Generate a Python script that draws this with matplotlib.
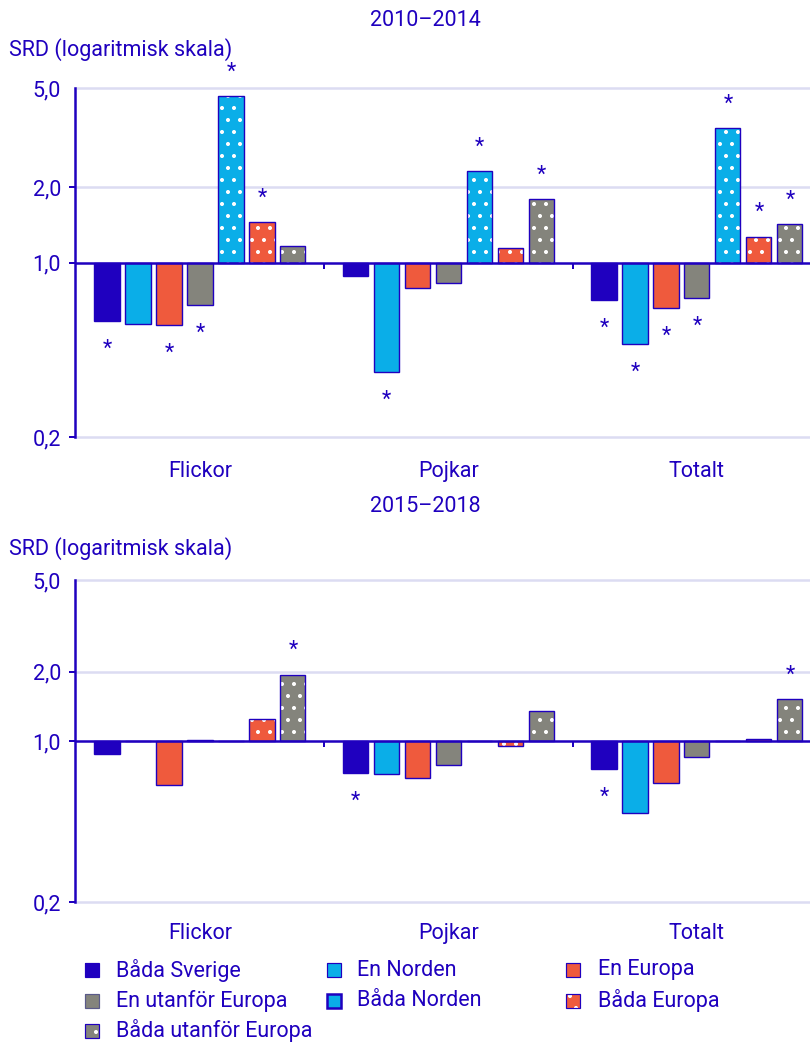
import matplotlib
matplotlib.use("Agg")
import matplotlib.pyplot as plt
import numpy as np
from matplotlib.patches import Rectangle
from matplotlib.transforms import blended_transform_factory

plt.rcParams["font.family"] = ["Roboto", "DejaVu Sans"]
plt.rcParams["hatch.linewidth"] = 1.6

# ---- data -------------------------------------------------------------
groups = ["Flickor", "Pojkar", "Totalt"]
series = ["Båda Sverige", "En Norden", "En Europa", "En utanför Europa",
          "Båda Norden", "Båda Europa", "Båda utanför Europa"]
periods = ["2010–2014", "2015–2018"]

# SRD per group, one value per series (order as in `series`)
srd_1014_flickor = [0.585, 0.569, 0.564, 0.678, 4.64, 1.45, 1.16]
srd_1014_pojkar = [0.879, 0.365, 0.787, 0.831, 2.32, 1.14, 1.79]
srd_1014_totalt = [0.710, 0.473, 0.660, 0.723, 3.45, 1.27, 1.42]

srd_1518_flickor = [0.877, 1.00, 0.643, 1.01, 1.00, 1.25, 1.94]
srd_1518_pojkar = [0.725, 0.718, 0.689, 0.786, 1.00, 0.95, 1.35]
srd_1518_totalt = [0.755, 0.485, 0.656, 0.851, 1.00, 1.02, 1.52]

# statistically significant differences (marked with *)
sig_1014_flickor = [1, 0, 1, 1, 1, 1, 0]
sig_1014_pojkar = [0, 1, 0, 0, 1, 0, 1]
sig_1014_totalt = [1, 1, 1, 1, 1, 1, 1]

sig_1518_flickor = [0, 0, 0, 0, 0, 0, 1]
sig_1518_pojkar = [1, 0, 0, 0, 0, 0, 0]
sig_1518_totalt = [1, 0, 0, 0, 0, 0, 1]

ytick_values = [0.2, 1.0, 2.0, 5.0]
ytick_labels = ["0,2", "1,0", "2,0", "5,0"]

# ---- style ------------------------------------------------------------
NAVY = "#1f00bf"
LIGHTBLUE = "#0aaee8"
ORANGE = "#ef5a3d"
GRAY = "#84847c"
GRID = "#dcdcf2"

fills = [NAVY, LIGHTBLUE, ORANGE, GRAY, LIGHTBLUE, ORANGE, GRAY]
dotted = [False, False, False, False, True, True, True]

DPI = 72
W, H = 810, 1043
FS = 21.5

fig = plt.figure(figsize=(W / DPI, H / DPI), dpi=DPI)


def px_box(left, top, right, bottom):
    return [left / W, 1 - bottom / H, (right - left) / W, (bottom - top) / H]


BAR_W = 0.101
STEP = 0.1247


def draw_panel(ax, values, sigs):
    vals = np.array(values)
    flags = np.array(sigs)
    ax.set_yscale("log")
    ax.set_ylim(0.2, 5.0)
    ax.set_xlim(-0.503, 2.455)
    xs = np.arange(len(groups))
    for s in range(len(series)):
        x = xs + (s - 3) * STEP
        v = vals[:, s]
        ax.bar(x, v - 1.0, bottom=1.0, width=BAR_W, color=fills[s],
               linewidth=0, zorder=3)
        if dotted[s]:
            ax.bar(x, v - 1.0, bottom=1.0, width=BAR_W, facecolor="none",
                   edgecolor="white", linewidth=0, hatch=".", zorder=3.5)
        ax.bar(x, v - 1.0, bottom=1.0, width=BAR_W, facecolor="none",
               edgecolor=NAVY, linewidth=1.4, zorder=4)
        for xi, vi, fi in zip(x, v, flags[:, s]):
            if fi:
                dy = 18.5 if vi >= 1 else -34
                ax.annotate("*", (xi, vi), xytext=(0, dy),
                            textcoords="offset points", ha="center",
                            va="baseline", color=NAVY, fontsize=FS)

    for yv in (0.2, 2.0, 5.0):
        ax.axhline(yv, color=GRID, lw=2.5, zorder=1, clip_on=False)
    ax.axhline(1.0, color=NAVY, lw=2.5, zorder=5)
    # small separators between groups on the baseline
    for b in (0.5, 1.5):
        ax.plot([b, b], [1.0, 10 ** (-7 / 250)], color=NAVY, lw=2,
                zorder=5, solid_capstyle="butt")

    for sp in ("top", "right", "bottom"):
        ax.spines[sp].set_visible(False)
    ax.spines["left"].set_color(NAVY)
    ax.spines["left"].set_linewidth(2.5)
    ax.spines["left"].set_zorder(6)
    ax.set_yticks(ytick_values)
    ax.set_yticklabels(ytick_labels)
    ax.yaxis.set_minor_locator(matplotlib.ticker.NullLocator())
    ax.tick_params(axis="y", colors=NAVY, labelsize=FS, length=6, width=2,
                   pad=8)
    ax.yaxis.get_major_ticks()[-1].tick1line.set_visible(False)
    ax.set_xticks([])

    trans = blended_transform_factory(ax.transData, ax.transAxes)
    for i, g in enumerate(groups):
        ax.text(i, -0.098, g, transform=trans, ha="center", va="center",
                color=NAVY, fontsize=FS)


ax1 = fig.add_axes(px_box(75, 88, 810, 437))
draw_panel(ax1, [srd_1014_flickor, srd_1014_pojkar, srd_1014_totalt],
           [sig_1014_flickor, sig_1014_pojkar, sig_1014_totalt])
ax2 = fig.add_axes(px_box(75, 580, 810, 902))
draw_panel(ax2, [srd_1518_flickor, srd_1518_pojkar, srd_1518_totalt],
           [sig_1518_flickor, sig_1518_pojkar, sig_1518_totalt])

# panel titles and axis captions
for title, ty, cy in zip(periods, (21, 506), (50, 549)):
    fig.text(425 / W, 1 - ty / H, title, ha="center", va="center",
             color=NAVY, fontsize=FS)
    fig.text(9 / W, 1 - cy / H, "SRD (logaritmisk skala)", ha="left",
             va="center", color=NAVY, fontsize=FS)

# legend, laid out row by row in three columns
col_x = [85, 327, 566]
text_x = [116, 357, 598]
row_y = [970, 1001, 1031]
for i, name in enumerate(series):
    r, c = divmod(i, 3)
    cx, cy = col_x[c], row_y[r]
    lw = 2.5 if i == 4 else 1.2
    ec = NAVY if i != 3 else "#5a5a8a"
    box = (cx / W, 1 - (cy + 7) / H)
    fig.patches.append(Rectangle(box, 14 / W, 14 / H,
                                 transform=fig.transFigure,
                                 facecolor=fills[i], linewidth=0))
    if dotted[i] and i != 4:
        fig.patches.append(Rectangle(box, 14 / W, 14 / H,
                                     transform=fig.transFigure,
                                     facecolor="none", edgecolor="white",
                                     linewidth=0, hatch="."))
    fig.patches.append(Rectangle(box, 14 / W, 14 / H,
                                 transform=fig.transFigure,
                                 facecolor="none", edgecolor=ec,
                                 linewidth=lw))
    fig.text(text_x[c] / W, 1 - cy / H, name, ha="left", va="center",
             color=NAVY, fontsize=FS)

fig.savefig("out.png", dpi=DPI)
